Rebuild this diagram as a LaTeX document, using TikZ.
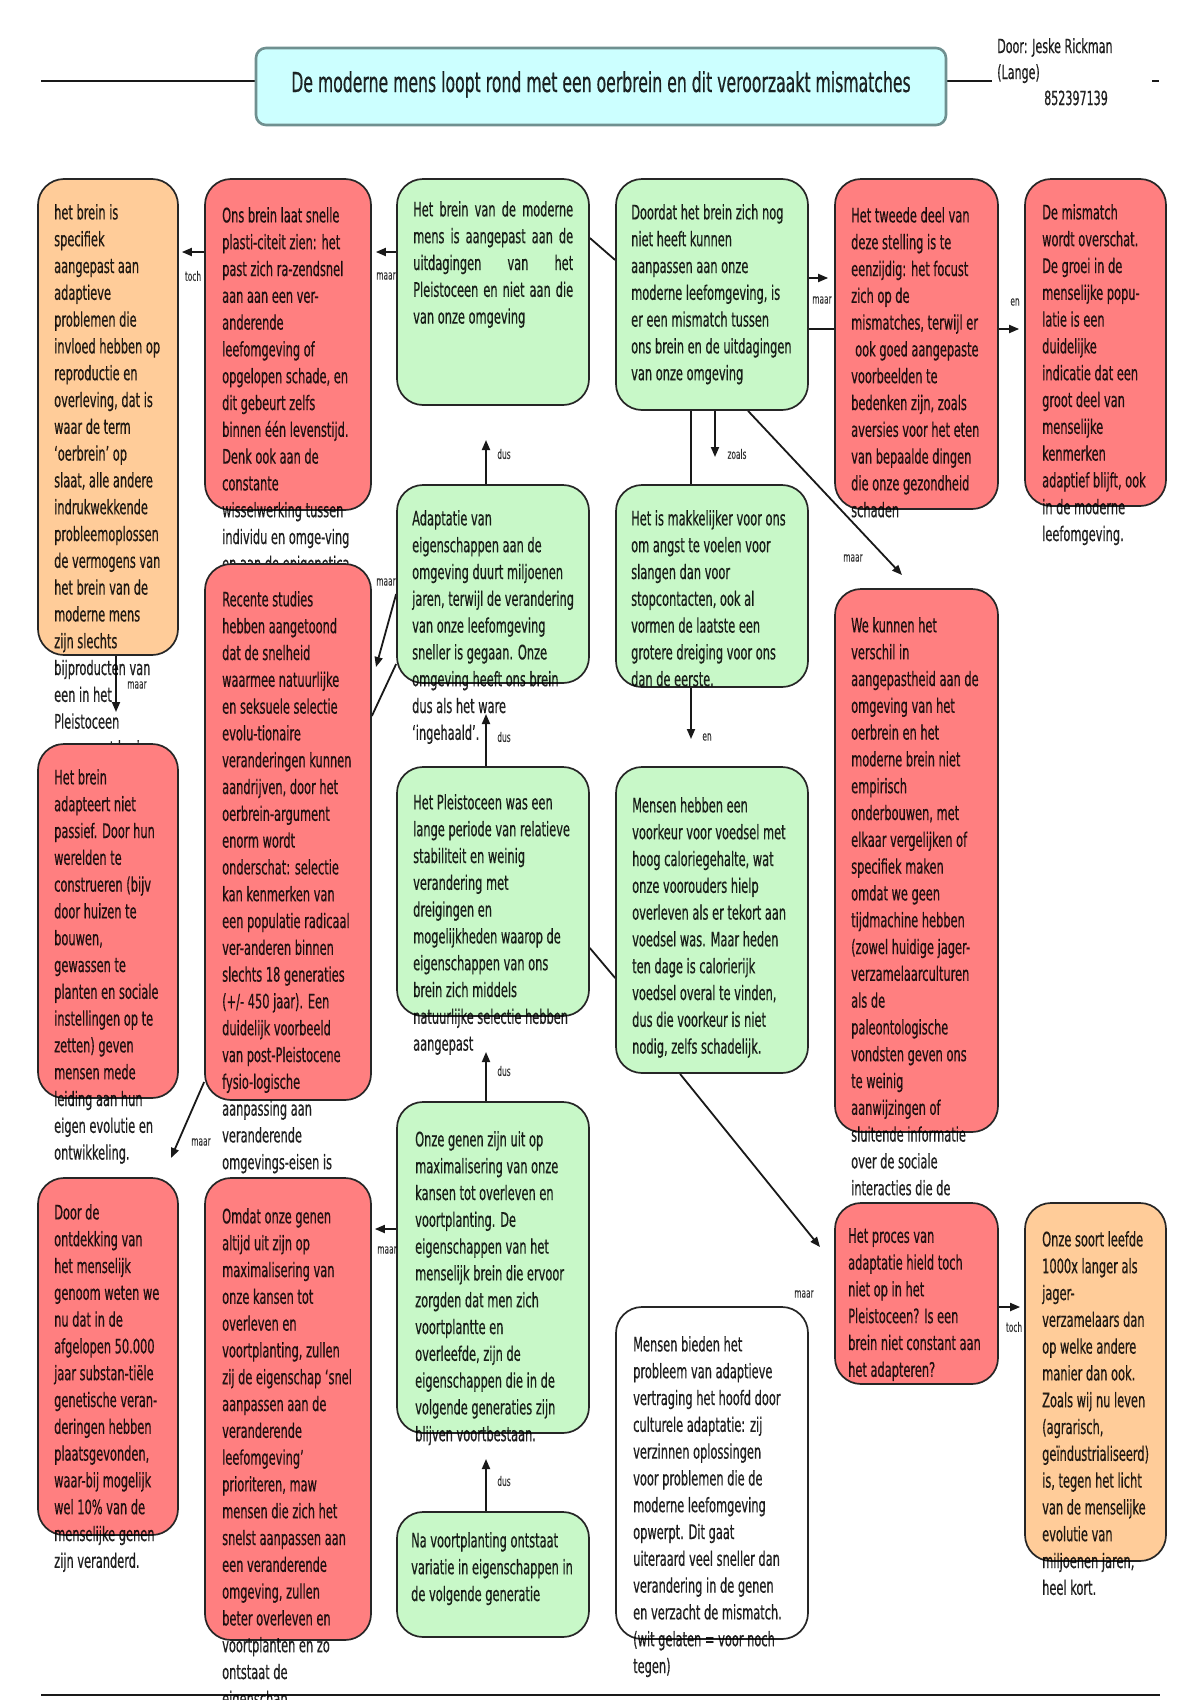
\documentclass[tikz,border=0pt]{standalone}
\usepackage{fontspec}
\newfontfamily\bodyf[FakeStretch=0.57,FakeBold=0.5]{DejaVu Sans}
\usetikzlibrary{arrows.meta,backgrounds}
\definecolor{boxred}{HTML}{FF7F80}
\definecolor{boxgreen}{HTML}{C8F8C8}
\definecolor{boxorange}{HTML}{FFCC99}
\definecolor{titlecyan}{HTML}{CCFFFF}
\definecolor{titleedge}{HTML}{6F9090}
\newcommand\bodyfont{\bodyf\fontsize{20}{26.8}\selectfont}
\newcommand\lblfont{\bodyf\fontsize{13}{15}\selectfont}
\newcommand\titlefont{\bodyf\fontsize{27.5}{30}\selectfont}
\newcommand\authfont{\bodyf\fontsize{19.5}{26}\selectfont}
\newcommand\placebox[6]{\node[#2, minimum width={#5-#3}, minimum height={#6-#4}] (#1) at ({(#3+#5)/2},{(#4+#6)/2}) {};}
\newcommand\placetext[4]{\node[txt] (#1) at (#2,#3) {#4};}
\tikzset{
  boxbase/.style={rectangle, rounded corners=26pt, inner sep=0pt, draw=black!85, line width=1.7pt},
  redbox/.style={boxbase, fill=boxred},
  greenbox/.style={boxbase, fill=boxgreen},
  orangebox/.style={boxbase, fill=boxorange},
  whitebox/.style={boxbase, fill=white},
  txt/.style={anchor=north west, inner sep=0pt, align=left, font=\bodyfont, text opacity=0.85},
  lbl/.style={inner sep=0pt, font=\lblfont, text opacity=0.7},
  ln/.style={line width=1.8pt, draw=black!90},
  arr/.style={ln, -{Triangle[length=10pt,width=8pt]}},
  thickline/.style={line width=2.6pt, draw=black!90}
}
\begin{document}
\begin{tikzpicture}[x=1pt,y=-1pt]
\useasboundingbox (0,0) rectangle (1200,1700);
\clip (0,0) rectangle (1200,1700);

% title
\node[rectangle, rounded corners=10pt, draw=titleedge, line width=2.6pt, fill=titlecyan,
  minimum width=690, minimum height=77, inner sep=0pt, font=\titlefont, text opacity=0.85,
  text height=20pt, text depth=9pt]
  (title) at (601,86.5) {De moderne mens loopt rond met een oerbrein en dit veroorzaakt mismatches};
\node[txt, font=\authfont] (author) at (997,38) {Door: Jeske Rickman\\(Lange)\\\hspace{47pt}852397139};

% column 1
\placebox{O1}{orangebox}{38}{179}{178}{655}
\placetext{O1t}{54}{204}{het brein is\\specifiek\\aangepast aan\\adaptieve\\problemen die\\invloed hebben op\\reproductie en\\overleving, dat is\\waar de term\\‘oerbrein’ op\\slaat, alle andere\\indrukwekkende\\probleemoplossen\\de vermogens van\\het brein van de\\moderne mens\\zijn slechts\\bijproducten van\\een in het\\Pleistoceen\\aangepast brein}
\placebox{rA}{redbox}{38}{744}{178}{1098}
\placetext{rAt}{54}{769}{Het brein\\adapteert niet\\passief. Door hun\\werelden te\\construeren (bijv\\door huizen te\\bouwen,\\gewassen te\\planten en sociale\\instellingen op te\\zetten) geven\\mensen mede\\leiding aan hun\\eigen evolutie en\\ontwikkeling.}
\placebox{rD}{redbox}{38}{1178}{178}{1535}
\placetext{rDt}{54}{1204}{Door de\\ontdekking van\\het menselijk\\genoom weten we\\nu dat in de\\afgelopen 50.000\\jaar substan-tiële\\genetische veran-\\deringen hebben\\plaatsgevonden,\\waar-bij mogelijk\\wel 10\% van de\\menselijke genen\\zijn veranderd.}

% column 2
\placebox{rOns}{redbox}{205}{179}{371}{510}
\placetext{rOnst}{222}{207}{Ons brein laat snelle\\plasti-citeit zien: het\\past zich ra-zendsnel\\aan aan een ver-\\anderende\\leefomgeving of\\opgelopen schade, en\\dit gebeurt zelfs\\binnen één levenstijd.\\Denk ook aan de\\constante\\wisselwerking tussen\\individu en omge-ving\\en aan de epigenetica}
\placebox{rRec}{redbox}{205}{564}{371}{1100}
\placetext{rRect}{222}{591}{Recente studies\\hebben aangetoond\\dat de snelheid\\waarmee natuurlijke\\en seksuele selectie\\evolu-tionaire\\veranderingen kunnen\\aandrijven, door het\\oerbrein-argument\\enorm wordt\\onderschat: selectie\\kan kenmerken van\\een populatie radicaal\\ver-anderen binnen\\slechts 18 generaties\\(+/- 450 jaar). Een\\duidelijk voorbeeld\\van post-Pleistocene\\fysio-logische\\aanpassing aan\\veranderende\\omgevings-eisen is}
\placebox{rOm}{redbox}{205}{1178}{371}{1640}
\placetext{rOmt}{222}{1208}{Omdat onze genen\\altijd uit zijn op\\maximalisering van\\onze kansen tot\\overleven en\\voortplanting, zullen\\zij de eigenschap ‘snel\\aanpassen aan de\\veranderende\\leefomgeving’\\prioriteren, maw\\mensen die zich het\\snelst aanpassen aan\\een veranderende\\omgeving, zullen\\beter overleven en\\voortplanten en zo\\ontstaat de\\eigenschap}

% column 3
\placebox{gHB}{greenbox}{397}{179}{589}{405}
\placetext{gHBt}{413}{201}{\makebox[160pt][s]{Het brein van de moderne}\\\makebox[160pt][s]{mens is aangepast aan de}\\\makebox[160pt][s]{uitdagingen van het}\\\makebox[160pt][s]{Pleistoceen en niet aan die}\\van onze omgeving}
\placebox{gAd}{greenbox}{397}{485}{589}{683}
\placetext{gAdt}{412}{510}{Adaptatie van\\eigenschappen aan de\\omgeving duurt miljoenen\\jaren, terwijl de verandering\\van onze leefomgeving\\sneller is gegaan. Onze\\omgeving heeft ons brein\\dus als het ware\\‘ingehaald’.}
\placebox{gPl}{greenbox}{397}{767}{589}{1016}
\placetext{gPlt}{413}{794}{Het Pleistoceen was een\\lange periode van relatieve\\stabiliteit en weinig\\verandering met\\dreigingen en\\mogelijkheden waarop de\\eigenschappen van ons\\brein zich middels\\natuurlijke selectie hebben\\aangepast}
\placebox{gOG}{greenbox}{397}{1102}{589}{1433}
\placetext{gOGt}{415}{1131}{Onze genen zijn uit op\\maximalisering van onze\\kansen tot overleven en\\voortplanting. De\\eigenschappen van het\\menselijk brein die ervoor\\zorgden dat men zich\\voortplantte en\\overleefde, zijn de\\eigenschappen die in de\\volgende generaties zijn\\blijven voortbestaan.}
\placebox{gNa}{greenbox}{397}{1512}{589}{1637}
\placetext{gNat}{411}{1532}{Na voortplanting ontstaat\\variatie in eigenschappen in\\de volgende generatie}

% column 4
\placebox{gDo}{greenbox}{616}{179}{808}{410}
\placetext{gDot}{631}{204}{Doordat het brein zich nog\\niet heeft kunnen\\aanpassen aan onze\\moderne leefomgeving, is\\er een mismatch tussen\\ons brein en de uitdagingen\\van onze omgeving}
\placebox{gMa}{greenbox}{616}{485}{808}{687}
\placetext{gMat}{631}{510}{Het is makkelijker voor ons\\om angst te voelen voor\\slangen dan voor\\stopcontacten, ook al\\vormen de laatste een\\grotere dreiging voor ons\\dan de eerste.}
\placebox{gMe}{greenbox}{616}{767}{808}{1073}
\placetext{gMet}{632}{797}{Mensen hebben een\\voorkeur voor voedsel met\\hoog caloriegehalte, wat\\onze voorouders hielp\\overleven als er tekort aan\\voedsel was. Maar heden\\ten dage is calorierijk\\voedsel overal te vinden,\\dus die voorkeur is niet\\nodig, zelfs schadelijk.}
\placebox{wMB}{whitebox}{616}{1307}{808}{1639}
\placetext{wMBt}{633}{1336}{Mensen bieden het\\probleem van adaptieve\\vertraging het hoofd door\\culturele adaptatie: zij\\verzinnen oplossingen\\voor problemen die de\\moderne leefomgeving\\opwerpt. Dit gaat\\uiteraard veel sneller dan\\verandering in de genen\\en verzacht de mismatch.\\(wit gelaten = voor noch\\tegen)}

% column 5
\placebox{rTw}{redbox}{835}{179}{998}{509}
\placetext{rTwt}{851}{207}{Het tweede deel van\\deze stelling is te\\eenzijdig: het focust\\zich op de\\mismatches, terwijl er\\\hspace{4pt}ook goed aangepaste\\voorbeelden te\\bedenken zijn, zoals\\aversies voor het eten\\van bepaalde dingen\\die onze gezondheid\\schaden}
\placebox{rWe}{redbox}{835}{589}{998}{1132}
\placetext{rWet}{851}{617}{We kunnen het\\verschil in\\aangepastheid aan de\\omgeving van het\\oerbrein en het\\moderne brein niet\\empirisch\\onderbouwen, met\\elkaar vergelijken of\\specifiek maken\\omdat we geen\\tijdmachine hebben\\(zowel huidige jager-\\verzamelaarculturen\\als de\\paleontologische\\vondsten geven ons\\te weinig\\aanwijzingen of\\sluitende informatie\\over de sociale\\interacties die de}
\placebox{rPr}{redbox}{835}{1203}{998}{1384}
\placetext{rPrt}{848}{1228}{Het proces van\\adaptatie hield toch\\niet op in het\\Pleistoceen? Is een\\brein niet constant aan\\het adapteren?}

% column 6
\placebox{rMi}{redbox}{1025}{179}{1166}{506}
\placetext{rMit}{1042}{204}{De mismatch\\wordt overschat.\\De groei in de\\menselijke popu-\\latie is een\\duidelijke\\indicatie dat een\\groot deel van\\menselijke\\kenmerken\\adaptief blijft, ook\\in de moderne\\leefomgeving.}
\placebox{oOS}{orangebox}{1025}{1203}{1166}{1561}
\placetext{oOSt}{1042}{1231}{Onze soort leefde\\1000x langer als\\jager-\\verzamelaars dan\\op welke andere\\manier dan ook.\\Zoals wij nu leven\\(agrarisch,\\geïndustrialiseerd)\\is, tegen het licht\\van de menselijke\\evolutie van\\miljoenen jaren,\\heel kort.}

% free arrow ends
\coordinate (tZoals) at (715,457);
\coordinate (tEn) at (691,739);
\coordinate (tWe) at (902,575);
\coordinate (tDus1) at (486,440);
\coordinate (tDus2) at (486,714);
\coordinate (tDus3) at (486,1052);
\coordinate (tDus4) at (486,1459);
\coordinate (tRec) at (376,667);
\coordinate (tAdp) at (116,712);
\coordinate (tDoor) at (171,1158);
\coordinate (tProc) at (820,1247);
\coordinate (lineL) at (41,81);
\coordinate (lineR) at (992,81);
\coordinate (dashA) at (1152,81);
\coordinate (dashB) at (1159,81);
\coordinate (botL) at (41,1695);
\coordinate (botR) at (1160,1695);

% labels
\node[lbl] (l1) at (386,276) {maar};
\node[lbl] (l2) at (193,276) {toch};
\node[lbl] (l3) at (822,300) {maar};
\node[lbl] (l4) at (1015,302) {en};
\node[lbl] (l5) at (504,454) {dus};
\node[lbl] (l6) at (737,454) {zoals};
\node[lbl] (l7) at (853,558) {maar};
\node[lbl] (l8) at (386,582) {maar};
\node[lbl] (l9) at (137,685) {maar};
\node[lbl] (l10) at (504,737) {dus};
\node[lbl] (l11) at (707,737) {en};
\node[lbl] (l12) at (504,1071) {dus};
\node[lbl] (l13) at (201,1142) {maar};
\node[lbl] (l14) at (387,1250) {maar};
\node[lbl] (l15) at (804,1294) {maar};
\node[lbl] (l16) at (1014,1327) {toch};
\node[lbl] (l17) at (504,1481) {dus};

\begin{pgfonlayer}{background}
\fill[white] (0,0) rectangle (1200,1700);
\draw[thickline] (lineL) -- (title.west |- lineL);
\draw[thickline] (title.east |- lineR) -- (lineR);
\draw[thickline] (dashA) -- (dashB);
\draw[thickline] (botL) -- (botR);
\draw[arr, shorten >=4pt] (gHB.west |- 0,252) -- (rOns.east |- 0,252);
\draw[arr, shorten >=3pt] (rOns.west |- 0,252) -- (O1.east |- 0,252);
\draw[ln] (gHB.east |- 0,238) -- (gDo.west |- 0,260);
\draw[arr, shorten >=6pt] (gDo.east |- 0,278) -- (rTw.west |- 0,278);
\draw[arr, shorten >=5pt] (gDo.east |- 0,329) -- (rMi.west |- 0,329);
\draw[arr] (gDo.south -| tZoals) -- (tZoals);
\draw[ln] (gDo.south -| tEn) -- (gMa.north -| tEn);
\draw[arr] (gMa.south -| tEn) -- (tEn);
\draw[arr] (gDo.south -| 748,0) -- (tWe);
\draw[arr] (gAd.north -| tDus1) -- (tDus1);
\draw[arr] (gPl.north -| tDus2) -- (tDus2);
\draw[arr] (gOG.north -| tDus3) -- (tDus3);
\draw[arr] (gNa.north -| tDus4) -- (tDus4);
\draw[arr, shorten >=3pt] (gOG.west |- 0,1229) -- (rOm.east |- 0,1229);
\draw[arr] (gAd.west |- 0,594) -- (tRec);
\draw[ln] (rRec.east |- 0,716) -- (gAd.west |- 0,664);
\draw[arr] (O1.south -| tAdp) -- (tAdp);
\draw[arr] (rRec.west |- 0,1082) -- (tDoor);
\draw[arr] (gMe.south -| 680,0) -- (tProc);
\draw[ln] (gPl.east |- 0,948) -- (gMe.west |- 0,978);
\draw[arr, shorten >=4pt] (rPr.east |- 0,1307) -- (oOS.west |- 0,1307);
\end{pgfonlayer}
\end{tikzpicture}
\end{document}
